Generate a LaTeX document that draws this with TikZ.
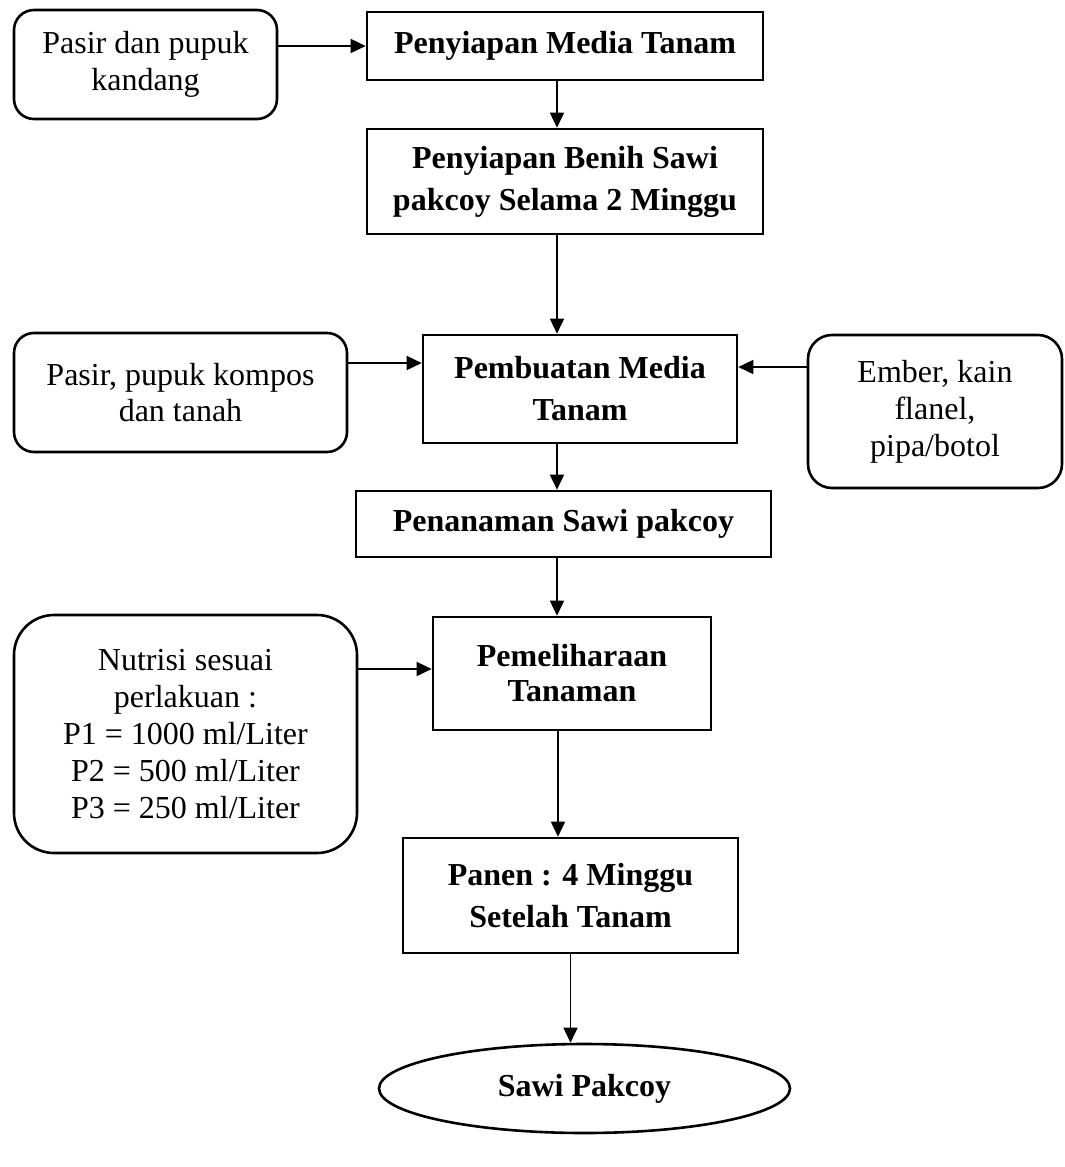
\documentclass[tikz,border=0pt]{standalone}
\usepackage{fontspec}
\setmainfont{Liberation Serif}
\usetikzlibrary{shapes.geometric,arrows.meta}
\begin{document}
\begin{tikzpicture}[x=0.5pt,y=-0.5pt,
  base/.style={draw,line width=1.3pt,inner sep=0pt,align=center},
  src/.style={base,rounded corners=10pt,font=\fontsize{16}{18.4}\selectfont},
  stepbox/.style={base,font=\fontsize{16}{21}\selectfont\bfseries},
  arr/.style={line width=0.8pt,-{Triangle[length=7.5pt,width=7pt]}}]
\fill[white] (0,0) rectangle (1065,1167);
\useasboundingbox (0,0) rectangle (1065,1167);

\node[src,minimum width=131.5pt,minimum height=54.5pt] (p1) at (145.5,64.5) {Pasir dan pupuk\\kandang};
\node[stepbox,minimum width=198pt,minimum height=34pt] (media) at (565,46) {Penyiapan Media Tanam};
\node[stepbox,minimum width=198pt,minimum height=52.5pt] (benih) at (565,181.5) {Penyiapan Benih Sawi\\pakcoy Selama 2 Minggu};
\node[src,minimum width=166.5pt,minimum height=59.5pt] (pk) at (180.5,392.5) {Pasir, pupuk kompos\\dan tanah};
\node[stepbox,minimum width=157pt,minimum height=54pt] (pemb) at (580,389) {Pembuatan Media\\Tanam};
\node[src,rounded corners=12pt,minimum width=127pt,minimum height=76.5pt] (ember) at (935,411.5) {Ember, kain\\flanel,\\pipa/botol};
\node[stepbox,minimum width=207.5pt,minimum height=33pt] (penan) at (563.5,524) {Penanaman Sawi pakcoy};
\node[src,rounded corners=20pt,minimum width=171.5pt,minimum height=119pt] (nut) at (185.5,734) {Nutrisi sesuai\\perlakuan :\\P1 = 1000 ml/Liter\\P2 = 500 ml/Liter\\P3 = 250 ml/Liter};
\node[stepbox,font=\fontsize{16}{17.5}\selectfont\bfseries,minimum width=139pt,minimum height=56.5pt] (pemel) at (572,673.5) {Pemeliharaan\\Tanaman};
\node[stepbox,minimum width=167.5pt,minimum height=57.5pt] (panen) at (570.5,895.5) {Panen : 4 Minggu\\Setelah Tanam};
\node[stepbox,ellipse,minimum width=205.5pt,minimum height=44.5pt] (sawi) at (584.5,1088.5) {Sawi Pakcoy};

\coordinate (spine) at (557,0);
\coordinate (ylvA) at (0,363);
\coordinate (ylvB) at (0,367);
\coordinate (ylvC) at (0,669);

\draw[arr] (media.west -| p1.east) -- (media.west);
\draw[arr] (media.south -| spine) -- (benih.north -| spine);
\draw[arr] (benih.south -| spine) -- (pemb.north -| spine);
\draw[arr] (ylvA -| pk.east) -- (ylvA -| pemb.west);
\draw[arr] (ylvB -| ember.west) -- (ylvB -| pemb.east);
\draw[arr] (pemb.south -| spine) -- (penan.north -| spine);
\draw[arr] (penan.south -| spine) -- (pemel.north -| spine);
\draw[arr] (ylvC -| nut.east) -- (ylvC -| pemel.west);
\draw[arr] ([xshift=-7pt]pemel.south) -- ([xshift=-7pt]pemel.south |- panen.north);
\draw[arr] (panen.south) -- (panen.south |- sawi.north);
\end{tikzpicture}
\end{document}
